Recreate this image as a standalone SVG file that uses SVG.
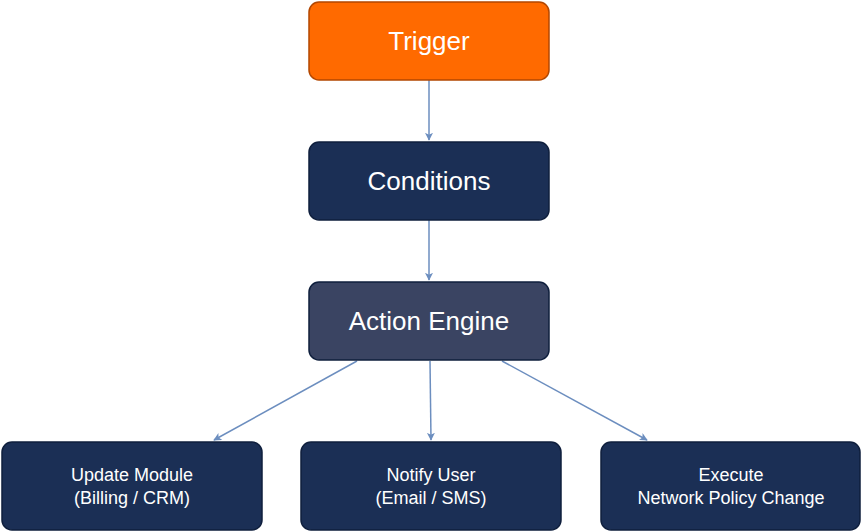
<svg xmlns="http://www.w3.org/2000/svg" width="862" height="532" viewBox="0 0 862 532">
<style>
.n{stroke:#0f1f3d;stroke-width:1.5}
.t{fill:#fff;font-family:"Liberation Sans",Arial,sans-serif;text-anchor:middle}
.big{font-size:26px}
.sm{font-size:18px}
.c{stroke:#6c8ebf;stroke-width:1.5;fill:none;marker-end:url(#a)}
</style>
<defs><marker id="a" viewBox="0 0 10 10" refX="9" refY="5" markerWidth="8" markerHeight="8" markerUnits="userSpaceOnUse" orient="auto"><path d="M0,0L10,5L0,10L2.5,5z" fill="#6c8ebf"/></marker></defs>
<g id="connectors">
<path class="c" d="M429,80V140"/>
<path class="c" d="M429,220V280"/>
<path class="c" d="M357,361L214,440"/>
<path class="c" d="M430,361L431,440"/>
<path class="c" d="M502,361L647,440"/>
</g>
<g id="trigger"><rect x="309" y="2" width="240" height="78" rx="10" fill="#ff6a00" stroke="#b34700" stroke-width="1.5"/><text class="t big" x="429" y="50">Trigger</text></g>
<g id="conditions"><rect class="n" x="309" y="142" width="240" height="78" rx="10" fill="#1b2f55"/><text class="t big" x="429" y="190">Conditions</text></g>
<g id="action"><rect class="n" x="309" y="282" width="240" height="78" rx="10" fill="#3a4462"/><text class="t big" x="429" y="330">Action Engine</text></g>
<g id="update"><rect class="n" x="2" y="442" width="260" height="88" rx="10" fill="#1b2f55"/><text class="t sm" x="132" y="481">Update Module</text><text class="t sm" x="132" y="504">(Billing / CRM)</text></g>
<g id="notify"><rect class="n" x="301" y="442" width="260" height="88" rx="10" fill="#1b2f55"/><text class="t sm" x="431" y="481">Notify User</text><text class="t sm" x="431" y="504">(Email / SMS)</text></g>
<g id="execute"><rect class="n" x="601" y="442" width="259" height="88" rx="10" fill="#1b2f55"/><text class="t sm" x="731" y="481">Execute</text><text class="t sm" x="731" y="504">Network Policy Change</text></g>
</svg>
